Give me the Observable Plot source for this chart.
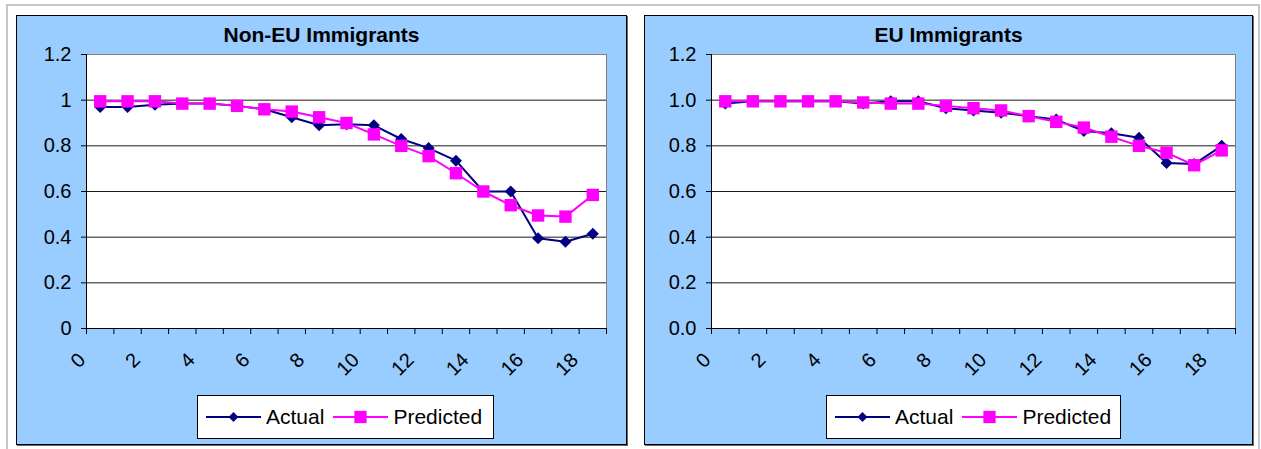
<!DOCTYPE html>
<html>
<head>
<meta charset="utf-8">
<script src="https://cdn.jsdelivr.net/npm/d3@7"></script>
<script src="https://cdn.jsdelivr.net/npm/@observablehq/plot@0.6"></script>
<style>
  body { margin: 0; background: #fff; font-family: "Liberation Sans", Arial, sans-serif; }
  #sheet { position: absolute; left: 6px; top: 4px; width: 1250px; height: 460px;
           border: 2px solid #c6c6c6; border-bottom: none; }
  .panel { position: absolute; top: 15px; height: 428px; background: #99ccff;
           border: 1px solid #000; box-shadow: 1px 1px 0 #666; }
  .title { position: absolute; left: 0; right: 0; top: 7px; text-align: center;
           font-weight: bold; font-size: 21px; line-height: 24px; color: #000; }
  .plot { position: absolute; left: 0; top: 0; }
  .legend { position: absolute; top: 379px; height: 42px; background: #fff; border: 1px solid #000;
            display: flex; align-items: center; font-size: 21px; color: #000; box-sizing: content-box; }
  .legend svg { display: block; }
  .legend .item { display: flex; align-items: center; }
</style>
</head>
<body>
<div id="sheet"></div>
<div class="panel" id="left" style="left:16px; width:609px;">
  <div class="title">Non-EU Immigrants</div>
</div>
<div class="panel" id="right" style="left:644px; width:607px;">
  <div class="title">EU Immigrants</div>
</div>
<script>
// Category positions along the horizontal axis
const categories = [0, 1, 2, 3, 4, 5, 6, 7, 8, 9, 10, 11, 12, 13, 14, 15, 16, 17, 18];
const xTickLabels = [0, 2, 4, 6, 8, 10, 12, 14, 16, 18];
const yTicks = [0, 0.2, 0.4, 0.6, 0.8, 1.0, 1.2];

// Non-EU immigrants
const nonEuActual = [0.97, 0.97, 0.98, 0.985, 0.985, 0.975, 0.96, 0.925, 0.89, 0.895, 0.89, 0.83, 0.79, 0.735, 0.60, 0.60, 0.395, 0.38, 0.415];
const nonEuPredicted = [0.995, 0.995, 0.995, 0.985, 0.985, 0.975, 0.96, 0.95, 0.925, 0.90, 0.85, 0.80, 0.755, 0.68, 0.60, 0.54, 0.495, 0.49, 0.585];

// EU immigrants
const euActual = [0.985, 0.995, 0.995, 0.995, 0.995, 0.985, 0.995, 0.995, 0.965, 0.955, 0.945, 0.93, 0.915, 0.865, 0.855, 0.835, 0.725, 0.72, 0.80];
const euPredicted = [0.995, 0.995, 0.995, 0.995, 0.995, 0.99, 0.985, 0.985, 0.975, 0.965, 0.955, 0.93, 0.905, 0.88, 0.84, 0.80, 0.77, 0.715, 0.78];

const seriesNames = ["Actual", "Predicted"];
const seriesColors = ["#000080", "#ff00ff"];

function rows(values) {
  return categories.map((c, i) => ({x: c, y: values[i]}));
}

function chart({actual, predicted, yFormat, width, marginLeft, marginRight}) {
  const boundaries = categories.map(c => c - 0.5).concat([categories[categories.length - 1] + 0.5]);
  return Plot.plot({
    width,
    height: 360,
    marginTop: 38,
    marginBottom: 48,
    marginLeft,
    marginRight,
    style: {background: "transparent", fontFamily: "Liberation Sans, Arial, sans-serif", fontSize: "20px", color: "#000", overflow: "visible"},
    x: {domain: [boundaries[0], boundaries[boundaries.length - 1]], label: null},
    y: {domain: [0, 1.2], label: null},
    marks: [
      Plot.frame({fill: "#fff", stroke: "#808080"}),
      Plot.gridY({ticks: yTicks.slice(1, -1), stroke: "#1a1a1a", strokeOpacity: 1}),
      Plot.ruleX([boundaries[0]], {stroke: "#000"}),
      Plot.ruleY([0], {stroke: "#000"}),
      Plot.axisY({ticks: yTicks, tickSize: 5, tickPadding: 10, tickFormat: yFormat, fontSize: 20}),
      Plot.axisX({ticks: boundaries, tickSize: 6, tickFormat: () => ""}),
      Plot.axisX({ticks: xTickLabels, tickSize: 0, tickPadding: 0, tickRotate: -45,
                  textAnchor: "end", lineAnchor: "middle", dx: -18, dy: 28, fontSize: 20}),
      Plot.line(rows(actual), {x: "x", y: "y", stroke: seriesColors[0], strokeWidth: 2}),
      Plot.dot(rows(actual), {x: "x", y: "y", symbol: "diamond2", r: 5.4, fill: seriesColors[0], stroke: "none"}),
      Plot.line(rows(predicted), {x: "x", y: "y", stroke: seriesColors[1], strokeWidth: 2}),
      Plot.dot(rows(predicted), {x: "x", y: "y", symbol: "square", r: 7, fill: seriesColors[1], stroke: "none"})
    ]
  });
}

function legend(left, width) {
  const box = document.createElement("div");
  box.className = "legend";
  box.style.left = left + "px";
  box.style.width = width + "px";
  const symbols = [d3.symbolDiamond2, d3.symbolSquare];
  const sizes = [62, 150];
  seriesNames.forEach((name, i) => {
    const item = document.createElement("div");
    item.className = "item";
    item.style.marginLeft = i === 0 ? "8px" : "9px";
    const svg = d3.create("svg").attr("width", 55).attr("height", 20);
    svg.append("line").attr("x1", 0).attr("x2", 55).attr("y1", 10).attr("y2", 10)
      .attr("stroke", seriesColors[i]).attr("stroke-width", 2);
    svg.append("path").attr("transform", "translate(27.5,10)")
      .attr("d", d3.symbol(symbols[i], sizes[i])()).attr("fill", seriesColors[i]);
    item.appendChild(svg.node());
    const label = document.createElement("span");
    label.textContent = name;
    label.style.marginLeft = "5px";
    item.appendChild(label);
    box.appendChild(item);
  });
  return box;
}

const leftPanel = document.getElementById("left");
const leftPlot = chart({actual: nonEuActual, predicted: nonEuPredicted, yFormat: d3.format(""), width: 609, marginLeft: 69, marginRight: 20});
leftPlot.classList.add("plot");
leftPanel.appendChild(leftPlot);
leftPanel.appendChild(legend(180, 295));

const rightPanel = document.getElementById("right");
const rightPlot = chart({actual: euActual, predicted: euPredicted, yFormat: d3.format(".1f"), width: 607, marginLeft: 66, marginRight: 17});
rightPlot.classList.add("plot");
rightPanel.appendChild(rightPlot);
rightPanel.appendChild(legend(181, 293));
</script>
</body>
</html>
